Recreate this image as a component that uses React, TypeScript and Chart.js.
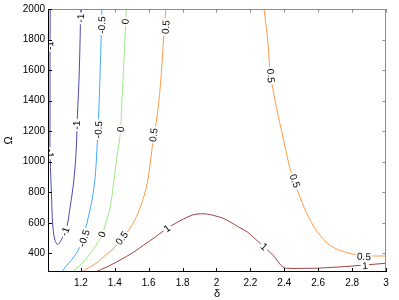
import React, { useEffect, useRef } from "react";
import { Chart, registerables } from "chart.js";

Chart.register(...registerables);

// Axis ranges and ticks
const X_MIN = 1.006;
const X_MAX = 3;
const Y_MIN = 278;
const Y_MAX = 2000;
const xTicks = [1.2, 1.4, 1.6, 1.8, 2, 2.2, 2.4, 2.6, 2.8, 3];
const yTicks = [400, 600, 800, 1000, 1200, 1400, 1600, 1800, 2000];
const xTitle = "δ";
const yTitle = "Ω";

// Contour level -1
const levM1X = [1.019, 1.018, 1.018, 1.018, 1.024, 1.028, 1.031, 1.037, 1.047, 1.063, 1.077, 1.095, 1.117, 1.136, 1.156, 1.172, 1.179, 1.191, 1.199];
const levM1Y = [2000, 1649, 1326, 1068, 854, 744, 637, 551, 486, 458, 475, 512, 572, 701, 854, 1068, 1283, 1606, 2000];

// Contour level -0.5
const levM05X = [1.324, 1.314, 1.304, 1.294, 1.284, 1.265, 1.244, 1.225, 1.204, 1.185, 1.160, 1.136, 1.112, 1.096, 1.087];
const levM05Y = [2000, 1606, 1283, 1068, 895, 744, 637, 551, 480, 421, 379, 346, 315, 292, 277];

// Contour level 0
const lev0X = [1.468, 1.456, 1.442, 1.432, 1.417, 1.392, 1.373, 1.343, 1.324, 1.284, 1.254, 1.225, 1.185, 1.146];
const lev0Y = [2000, 1714, 1391, 1177, 1068, 852, 701, 583, 518, 443, 399, 357, 313, 277];

// Contour level 0.5 (left branch)
const lev05aX = [1.701, 1.689, 1.669, 1.645, 1.629, 1.618, 1.590, 1.550, 1.501, 1.442, 1.383, 1.343, 1.304, 1.260, 1.225, 1.205];
const lev05aY = [2000, 1824, 1500, 1261, 1177, 1068, 852, 701, 583, 497, 421, 386, 346, 315, 292, 277];

// Contour level 0.5 (right branch)
const lev05bX = [2.280, 2.300, 2.320, 2.359, 2.385, 2.408, 2.438, 2.468, 2.517, 2.576, 2.655, 2.704, 2.753, 2.833, 2.911, 3.0];
const lev05bY = [2000, 1822, 1563, 1326, 1197, 1080, 938, 841, 701, 572, 465, 431, 410, 389, 383, 383];

// Contour level 1
const lev1X = [1.284, 1.361, 1.432, 1.503, 1.570, 1.639, 1.708, 1.757, 1.807, 1.858, 1.905, 1.947, 1.984, 2.036, 2.083, 2.130, 2.182, 2.231, 2.280, 2.320, 2.349, 2.373, 2.391, 2.408, 2.497, 2.596, 2.675, 2.753, 2.872, 3.0];
const lev1Y = [277, 315, 357, 402, 454, 507, 564, 596, 626, 651, 659, 657, 648, 631, 604, 573, 540, 492, 443, 402, 368, 331, 312, 303, 302, 303, 308, 313, 324, 335];

// Contour labels: series index, text, position
const labelSeries = [0, 0, 0, 0, 0, 1, 1, 1, 2, 2, 2, 3, 3, 3, 4, 4, 4, 5, 5, 5];
const labelTexts = ["-1", "-1", "-1", "-1", "-1", "-0.5", "-0.5", "-0.5", "0", "0", "0", "0.5", "0.5", "0.5", "0.5", "0.5", "0.5", "1", "1", "1"];
const labelX = [1.018, 1.018, 1.199, 1.175, 1.107, 1.324, 1.304, 1.219, 1.462, 1.436, 1.325, 1.701, 1.629, 1.442, 2.320, 2.462, 2.870, 1.708, 2.280, 2.876];
const labelY = [1760, 1055, 1940, 1240, 544, 1895, 1210, 499, 1918, 1212, 525, 1882, 1175, 499, 1563, 874, 378, 563, 443, 318];

const seriesX = [levM1X, levM05X, lev0X, lev05aX, lev05bX, lev1X];
const seriesY = [levM1Y, levM05Y, lev0Y, lev05aY, lev05bY, lev1Y];
const seriesColors = ["#4a4ab0", "#45a8ff", "#9ae88a", "#ff9a48", "#ff9a48", "#a04040"];

const FONT = '"Liberation Sans", Arial, Helvetica, sans-serif';

const contourLabels = {
  id: "contourLabels",
  afterDatasetsDraw(chart: any) {
    const { ctx, chartArea, scales } = chart;
    const xs = scales.x;
    const ys = scales.y;
    ctx.save();
    ctx.beginPath();
    ctx.rect(chartArea.left, chartArea.top, chartArea.right - chartArea.left, chartArea.bottom - chartArea.top);
    ctx.clip();
    ctx.font = "10px " + FONT;
    ctx.textAlign = "center";
    ctx.textBaseline = "middle";
    for (let k = 0; k < labelTexts.length; k++) {
      const s = labelSeries[k];
      const px = xs.getPixelForValue(labelX[k]);
      const py = ys.getPixelForValue(labelY[k]);
      const dx = seriesX[s];
      const dy = seriesY[s];
      let best = Infinity;
      let ang = 0;
      for (let i = 0; i < dx.length - 1; i++) {
        const ax = xs.getPixelForValue(dx[i]);
        const ay = ys.getPixelForValue(dy[i]);
        const bx = xs.getPixelForValue(dx[i + 1]);
        const by = ys.getPixelForValue(dy[i + 1]);
        const vx = bx - ax;
        const vy = by - ay;
        const len2 = vx * vx + vy * vy || 1;
        let t = ((px - ax) * vx + (py - ay) * vy) / len2;
        t = Math.max(0, Math.min(1, t));
        const cx = ax + t * vx - px;
        const cy = ay + t * vy - py;
        const d = cx * cx + cy * cy;
        if (d < best) {
          best = d;
          ang = Math.atan2(vy, vx);
        }
      }
      while (ang > Math.PI / 2) ang -= Math.PI;
      while (ang <= -Math.PI / 2) ang += Math.PI;
      const text = labelTexts[k];
      const w = ctx.measureText(text).width;
      ctx.save();
      ctx.translate(px, py);
      ctx.rotate(ang);
      ctx.fillStyle = "#ffffff";
      ctx.fillRect(-w / 2 - 1.5, -3.5, w + 3, 7);
      ctx.fillStyle = "#000000";
      ctx.fillText(text, 0, 0.5);
      ctx.restore();
    }
    ctx.restore();
  },
};

const frame = {
  id: "frame",
  afterDraw(chart: any) {
    const { ctx, chartArea, scales } = chart;
    const { left, right, top, bottom } = chartArea;
    const xs = scales.x;
    const ys = scales.y;
    ctx.save();
    ctx.lineWidth = 1;
    // top & right (grey)
    ctx.strokeStyle = "#8c8c8c";
    ctx.beginPath();
    ctx.moveTo(left, top + 0.5);
    ctx.lineTo(right, top + 0.5);
    ctx.moveTo(right - 0.5, top);
    ctx.lineTo(right - 0.5, bottom);
    for (const v of xTicks) {
      const p = Math.round(xs.getPixelForValue(v)) + 0.5;
      ctx.moveTo(p, top);
      ctx.lineTo(p, top + 3.5);
    }
    for (const v of yTicks) {
      const p = Math.round(ys.getPixelForValue(v)) + 0.5;
      ctx.moveTo(right, p);
      ctx.lineTo(right - 3.5, p);
    }
    ctx.stroke();
    // left & bottom (black)
    ctx.strokeStyle = "#000000";
    ctx.beginPath();
    ctx.moveTo(left + 0.5, top);
    ctx.lineTo(left + 0.5, bottom);
    ctx.moveTo(left, bottom - 0.5);
    ctx.lineTo(right, bottom - 0.5);
    for (const v of xTicks) {
      const p = Math.round(xs.getPixelForValue(v)) + 0.5;
      ctx.moveTo(p, bottom);
      ctx.lineTo(p, bottom - 4);
    }
    for (const v of yTicks) {
      const p = Math.round(ys.getPixelForValue(v)) + 0.5;
      ctx.moveTo(left, p);
      ctx.lineTo(left + 4, p);
    }
    ctx.stroke();
    // titles
    ctx.fillStyle = "#000000";
    ctx.font = "11px " + FONT;
    ctx.textAlign = "center";
    ctx.textBaseline = "middle";
    ctx.fillText(xTitle, (left + right) / 2, 294);
    ctx.save();
    ctx.translate(9, (top + bottom) / 2);
    ctx.rotate(-Math.PI / 2);
    ctx.fillText(yTitle, 0, 0);
    ctx.restore();
    ctx.restore();
  },
};

export default function App() {
  const canvasRef = useRef<HTMLCanvasElement | null>(null);

  useEffect(() => {
    document.body.style.margin = "0";
    const canvas = canvasRef.current;
    if (!canvas) return;
    const datasets = seriesX.map((xs, i) => ({
      data: xs.map((x, j) => ({ x, y: seriesY[i][j] })),
      borderColor: seriesColors[i],
      backgroundColor: seriesColors[i],
      borderWidth: 1,
      pointRadius: 0,
      showLine: true,
      tension: 0.35,
      fill: false,
    }));
    const chart = new Chart(canvas, {
      type: "scatter",
      data: { datasets },
      options: {
        animation: false,
        responsive: false,
        maintainAspectRatio: false,
        devicePixelRatio: 1,
        layout: { padding: { left: 0, top: 6, right: 13, bottom: 0 } },
        plugins: {
          legend: { display: false },
          tooltip: { enabled: false },
          title: { display: false },
        },
        scales: {
          x: {
            type: "linear",
            min: X_MIN,
            max: X_MAX,
            grid: { display: false, drawTicks: false, tickLength: 0 },
            border: { display: false },
            afterBuildTicks: (scale: any) => {
              scale.ticks = xTicks.map((v) => ({ value: v }));
            },
            afterFit: (scale: any) => {
              scale.height = 28;
            },
            ticks: {
              autoSkip: false,
              maxRotation: 0,
              padding: 5,
              color: "#000",
              font: { family: FONT, size: 10 },
              callback: (v: any) => String(v),
            },
          },
          y: {
            type: "linear",
            min: Y_MIN,
            max: Y_MAX,
            grid: { display: false, drawTicks: false, tickLength: 0 },
            border: { display: false },
            afterBuildTicks: (scale: any) => {
              scale.ticks = yTicks.map((v) => ({ value: v }));
            },
            afterFit: (scale: any) => {
              scale.width = 48;
            },
            ticks: {
              autoSkip: false,
              padding: 3,
              color: "#000",
              font: { family: FONT, size: 10 },
              callback: (v: any) => String(v),
            },
          },
        },
      },
      plugins: [contourLabels, frame],
    });
    return () => chart.destroy();
  }, []);

  return (
    <div style={{ width: 399, height: 300, background: "#fff" }}>
      <canvas ref={canvasRef} width={399} height={300} style={{ display: "block" }} />
    </div>
  );
}
